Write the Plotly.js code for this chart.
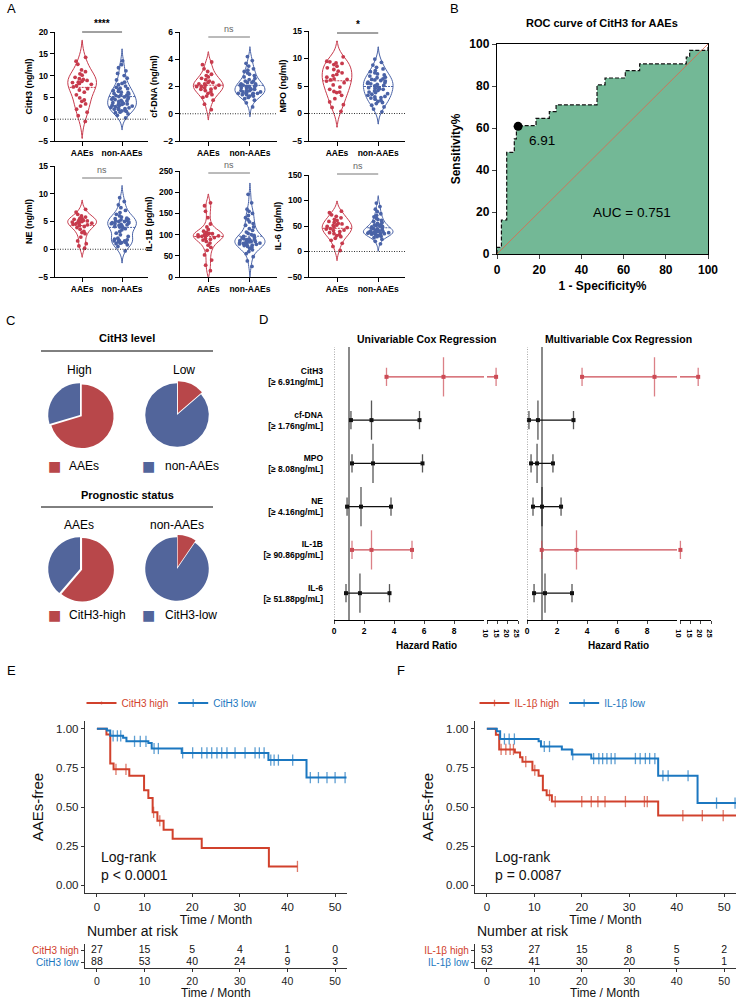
<!DOCTYPE html>
<html>
<head>
<meta charset="utf-8">
<script src="https://cdn.plot.ly/plotly-3.0.1.min.js"></script>
<style>html,body{margin:0;padding:0;background:#fff}</style>
</head>
<body>
<div id="chart" style="width:738px;height:999px"></div>
<script>
// ---------- Panel A: violin data ----------
const violinGroups = ['AAEs', 'non-AAEs'];
const citH3AAEs = [-0.5, 0.8, 1.6, 2.3, 3.0, 3.5, 4.1, 4.4, 4.9, 5.6, 6.2, 6.7, 7.0, 7.4, 7.7, 8.0, 8.2, 8.4, 8.5, 8.7, 8.9, 9.1, 9.3, 9.6, 10.1, 10.4, 10.9, 11.3, 12.6, 13.3, 14.2];
const citH3Non = [0.3, 0.9, 1.2, 1.5, 1.6, 1.8, 1.9, 2.0, 2.2, 2.3, 2.4, 2.6, 2.7, 2.9, 3.0, 3.1, 3.2, 3.4, 3.5, 3.6, 3.7, 3.8, 4.0, 4.1, 4.2, 4.3, 4.5, 4.6, 4.7, 4.9, 5.0, 5.1, 5.2, 5.4, 5.5, 5.6, 5.8, 5.9, 6.1, 6.2, 6.4, 6.6, 6.8, 7.0, 7.1, 7.3, 7.6, 7.9, 8.2, 8.5, 9.0, 9.4, 10.0, 10.5, 11.1, 11.8, 12.5, 13.4, 2.5, 3.3];
const cfDnaAAEs = [0.3, 0.7, 1.0, 1.2, 1.3, 1.4, 1.5, 1.6, 1.7, 1.8, 1.8, 1.9, 1.9, 2.0, 2.0, 2.1, 2.1, 2.2, 2.2, 2.3, 2.3, 2.4, 2.5, 2.6, 2.7, 2.8, 2.9, 3.1, 3.3, 3.6, 3.8];
const cfDnaNon = [0.5, 0.8, 1.0, 1.1, 1.2, 1.3, 1.3, 1.4, 1.4, 1.4, 1.5, 1.5, 1.5, 1.6, 1.6, 1.6, 1.7, 1.7, 1.7, 1.8, 1.8, 1.9, 1.9, 2.0, 2.0, 2.0, 2.1, 2.1, 2.2, 2.2, 2.3, 2.3, 2.4, 2.4, 2.5, 2.6, 2.7, 2.8, 2.9, 3.0, 3.1, 3.2, 3.3, 3.5, 3.7, 3.9, 4.2, 2.1, 1.9, 1.5];
const mpoAAEs = [0.4, 1.1, 1.6, 2.1, 2.7, 3.3, 3.9, 4.0, 4.4, 4.8, 5.2, 5.6, 5.9, 6.1, 6.3, 6.6, 6.9, 7.1, 7.4, 7.7, 8.0, 8.3, 8.6, 8.9, 9.1, 9.2, 9.4, 9.5, 3.8, 6.2, 10.3];
const mpoNon = [0.3, 0.8, 1.2, 1.5, 1.8, 2.0, 2.2, 2.4, 2.6, 2.8, 3.0, 3.1, 3.3, 3.5, 3.6, 3.8, 3.9, 4.1, 4.2, 4.4, 4.5, 4.7, 4.8, 5.0, 5.1, 5.3, 5.4, 5.6, 5.7, 5.9, 6.0, 6.2, 6.3, 6.5, 6.6, 6.8, 7.0, 7.2, 7.4, 7.6, 7.8, 8.1, 8.4, 8.8, 9.3, 9.9, 2.9, 4.6, 5.5, 6.1];
const neAAEs = [0.2, 0.6, 1.0, 1.5, 2.2, 2.8, 3.2, 3.6, 3.9, 4.1, 4.3, 4.5, 4.6, 4.7, 4.8, 4.9, 5.0, 5.1, 5.2, 5.3, 5.4, 5.5, 5.6, 5.8, 6.0, 6.3, 6.7, 7.2, 4.4, 5.0, 3.0];
const neNon = [-0.3, 0.5, 0.8, 1.0, 1.1, 1.2, 1.3, 1.4, 1.5, 1.6, 1.7, 1.8, 2.0, 2.3, 2.6, 2.9, 3.2, 3.5, 3.7, 3.9, 4.0, 4.1, 4.2, 4.3, 4.4, 4.5, 4.6, 4.7, 4.8, 4.9, 5.0, 5.1, 5.2, 5.3, 5.4, 5.5, 5.6, 5.8, 6.0, 6.3, 6.6, 7.0, 7.5, 8.0, 8.6, 9.3, 1.2, 1.5, 4.6, 5.0];
const il1bAAEs = [15, 28, 40, 52, 63, 70, 75, 80, 84, 87, 89, 91, 93, 95, 96, 97, 98, 99, 100, 101, 102, 103, 105, 108, 112, 118, 125, 140, 155, 168, 175];
const il1bNon = [25, 38, 48, 55, 60, 64, 67, 70, 72, 74, 75, 76, 77, 78, 79, 80, 81, 82, 83, 84, 85, 86, 87, 88, 89, 90, 92, 94, 96, 98, 100, 103, 106, 110, 114, 118, 122, 126, 130, 135, 140, 145, 150, 155, 160, 175, 195, 80, 84, 90];
const il6AAEs = [2, 10, 16, 22, 26, 29, 31, 33, 35, 37, 39, 41, 42, 44, 45, 47, 49, 51, 52, 54, 55, 57, 59, 61, 63, 66, 69, 72, 76, 79, 48];
const il6Non = [15, 20, 24, 27, 29, 30, 31, 32, 33, 34, 35, 35, 36, 36, 37, 37, 38, 38, 39, 39, 40, 40, 41, 42, 43, 44, 45, 46, 47, 48, 49, 50, 51, 52, 53, 55, 57, 59, 61, 63, 65, 68, 71, 74, 78, 83, 88, 95, 35, 40];

// ---------- Panel B: ROC ----------
const rocFpr = [0, 0, 2.1, 4.6, 8.2, 9.2, 18.5, 24.8, 28, 47.4, 51.2, 60.8, 67.6, 89.7, 91.3, 100, 100];
const rocTpr = [0, 3.2, 16.2, 48.4, 54.8, 61.1, 64.6, 67.8, 71, 80.5, 83.8, 87.3, 90.5, 93.8, 97, 97, 100];
const cutFpr = [10];
const cutTpr = [60.8];
const cutLabel = '6.91';
const aucLabel = 'AUC = 0.751';

// ---------- Panel C: counts ----------
const outcomeLabels = ['AAEs', 'non-AAEs'];
const levelLabels = ['CitH3-high', 'CitH3-low'];
const citHighCounts = [19, 8];   // AAEs, non-AAEs
const citLowCounts = [12, 76];
const aaeCounts = [19, 12];      // CitH3-high, CitH3-low
const nonAaeCounts = [8, 76];

// ---------- Panel D: Cox regression ----------
const coxRows = ['CitH3<br>[≥ 6.91ng/mL]', 'cf-DNA<br>[≥ 1.76ng/mL]', 'MPO<br>[≥ 8.08ng/mL]', 'NE<br>[≥ 4.16ng/mL]', 'IL-1B<br>[≥ 90.86pg/mL]', 'IL-6<br>[≥ 51.88pg/mL]'];
const uniHR = [7.3, 2.5, 2.6, 1.8, 2.5, 1.73];
const uniLo = [3.5, 1.13, 1.2, 0.87, 1.2, 0.8];
const uniHi = [14.4, 5.7, 5.9, 3.8, 5.2, 3.7];
const uniSig = [true, false, false, false, true, false];
const multiHR = [8.5, 0.73, 0.67, 1.0, 3.3, 1.2];
const multiLo = [3.67, 0.13, 0.27, 0.4, 0.98, 0.47];
const multiHi = [18.8, 3.1, 1.73, 2.27, 10.2, 3.0];
const multiSig = [true, false, false, false, true, false];
const hrBreak = 10;

// ---------- Panels E/F: Kaplan-Meier ----------
const eHighTimes = [0, 2.0, 2.8, 3.5, 6.8, 9.9, 10.8, 11.7, 12.7, 14.0, 15.9, 22.0, 36.1, 42.1];
const eHighSurv = [1, 0.963, 0.778, 0.741, 0.70, 0.607, 0.558, 0.466, 0.412, 0.355, 0.297, 0.237, 0.12, 0.12];
const eHighCens = [4.0, 6.1, 11.9, 13.2, 42.1];
const eLowTimes = [0, 2.1, 2.8, 5.5, 6.2, 10.8, 11.5, 17.8, 36.0, 44.0, 52.4];
const eLowSurv = [1, 0.989, 0.955, 0.943, 0.92, 0.91, 0.874, 0.846, 0.80, 0.688, 0.688];
const eLowCens = [3.4, 4.3, 5.0, 7.9, 9.1, 10.3, 12.0, 12.9, 18.0, 20.1, 22.0, 23.1, 24.1, 25.2, 26.2, 27.3, 29.0, 31.1, 33.2, 34.1, 35.1, 36.5, 37.2, 38.1, 41.1, 44.8, 46.5, 48.3, 50.0, 52.1];
const fHighTimes = [0, 1.9, 2.6, 5.9, 7.0, 7.5, 9.6, 10.9, 11.8, 12.6, 13.7, 36.1, 53];
const fHighSurv = [1, 0.962, 0.868, 0.849, 0.818, 0.79, 0.735, 0.70, 0.607, 0.575, 0.535, 0.445, 0.445];
const fHighCens = [3.0, 4.0, 4.9, 5.6, 8.2, 10.1, 13.2, 14.4, 20.0, 22.0, 23.4, 24.9, 29.2, 33.2, 33.8, 41.3, 45.4, 49.8];
const fLowTimes = [0, 2.1, 2.8, 10.9, 11.4, 15.8, 17.9, 22.0, 36.1, 44.4, 53];
const fLowSurv = [1, 0.984, 0.935, 0.92, 0.887, 0.867, 0.835, 0.81, 0.70, 0.525, 0.525];
const fLowCens = [3.7, 4.7, 5.8, 12.1, 13.2, 18.1, 22.5, 23.6, 24.4, 25.3, 26.2, 27.0, 31.3, 32.3, 33.4, 34.3, 35.4, 37.1, 38.2, 42.4, 48.4, 52.3];
const riskTimes = [0, 10, 20, 30, 40, 50];
const eRiskHigh = [27, 15, 5, 4, 1, 0];
const eRiskLow = [88, 53, 40, 24, 9, 3];
const fRiskHigh = [53, 27, 15, 8, 5, 2];
const fRiskLow = [62, 41, 30, 20, 5, 1];

// ---------- helpers ----------
const W = 738, H = 999;
const FONT = 'Liberation Sans, Arial, sans-serif';
const RED = '#c73a4c', BLUE = '#4a63a7';
const PIE_RED = '#b8474a', PIE_BLUE = '#52659b';
const FRED = '#cc4b55';
const KM_RED = '#d1412c', KM_BLUE = '#1b77c0';
const px = (a, b) => [a / W, b / W];
const py = (top, bottom) => [1 - bottom / H, 1 - top / H];
const fx = x => x / W;
const fy = y => 1 - y / H;
const xk = n => n === 1 ? 'xaxis' : 'xaxis' + n;
const yk = n => n === 1 ? 'yaxis' : 'yaxis' + n;
const xr = n => n === 1 ? 'x' : 'x' + n;
const yr = n => n === 1 ? 'y' : 'y' + n;

const traces = [];
const layout = {
  width: W, height: H,
  margin: {l: 0, r: 0, t: 0, b: 0},
  paper_bgcolor: '#fff', plot_bgcolor: 'rgba(0,0,0,0)',
  font: {family: FONT, color: '#000'},
  showlegend: true,
  shapes: [], annotations: []
};

function note(text, x, y, opts) {
  layout.annotations.push(Object.assign({
    text, x: fx(x), y: fy(y), xref: 'paper', yref: 'paper',
    showarrow: false, xanchor: 'center', yanchor: 'middle',
    font: {family: FONT, size: 12, color: '#000'}
  }, opts || {}));
}

// ---------- Panel A ----------
const boldTick = {family: FONT, size: 8.5, weight: 'bold', color: '#000'};
const violinPanels = [
  {n: 1, label: 'CitH3 (ng/ml)', a: citH3AAEs, b: citH3Non, range: [-5, 20], dtick: 5, xd: [55, 148], yd: [32, 141], sig: '****', barY: 32},
  {n: 2, label: 'cf-DNA (ng/ml)', a: cfDnaAAEs, b: cfDnaNon, range: [-2, 6], dtick: 2, xd: [180, 277], yd: [32, 141], sig: 'ns', barY: 37},
  {n: 3, label: 'MPO (ng/ml)', a: mpoAAEs, b: mpoNon, range: [-5, 15], dtick: 5, xd: [309, 405], yd: [31, 141], sig: '*', barY: 33},
  {n: 4, label: 'NE (ng/ml)', a: neAAEs, b: neNon, range: [-5, 15], dtick: 5, xd: [55, 148], yd: [166, 277], sig: 'ns', barY: 178},
  {n: 5, label: 'IL-1B (pg/ml)', a: il1bAAEs, b: il1bNon, range: [0, 250], dtick: 50, xd: [180, 277], yd: [171, 277], sig: 'ns', barY: 173},
  {n: 6, label: 'IL-6 (pg/ml)', a: il6AAEs, b: il6Non, range: [-50, 150], dtick: 50, xd: [309, 405], yd: [175, 277], sig: 'ns', barY: 174}
];

violinPanels.forEach(p => {
  [[p.a, violinGroups[0], RED], [p.b, violinGroups[1], BLUE]].forEach(([vals, name, color]) => {
    traces.push({
      type: 'violin', y: vals, name, x0: name,
      xaxis: xr(p.n), yaxis: yr(p.n),
      points: 'all', pointpos: 0, jitter: 0.8,
      width: 0.72, spanmode: 'soft',
      line: {color, width: 1}, fillcolor: 'rgba(255,255,255,0)',
      marker: {color, size: 3.8},
      meanline: {visible: true, color, width: 1},
      showlegend: false, hoverinfo: 'skip'
    });
  });
  layout[xk(p.n)] = {
    domain: px(p.xd[0], p.xd[1]), anchor: yr(p.n),
    type: 'category', categoryarray: violinGroups, range: [-0.68, 1.65],
    showgrid: false, zeroline: false, showline: true, linecolor: '#000', linewidth: 1.2,
    ticks: 'outside', ticklen: 4, tickcolor: '#000', tickfont: boldTick
  };
  layout[yk(p.n)] = {
    domain: py(p.yd[0], p.yd[1]), anchor: xr(p.n),
    range: p.range, dtick: p.dtick, tick0: 0,
    showgrid: false, zeroline: false, showline: true, linecolor: '#000', linewidth: 1.2,
    ticks: 'outside', ticklen: 4, tickcolor: '#000', tickfont: boldTick,
    title: {text: p.label, font: {family: FONT, size: 9, weight: 'bold'}, standoff: 4}
  };
  if (p.range[0] < 0) {
    layout.shapes.push({type: 'line', xref: xr(p.n) + ' domain', yref: yr(p.n), x0: 0, x1: 1, y0: 0, y1: 0,
      line: {color: '#333', width: 1, dash: '1px,1.5px'}});
  }
  const ns = p.sig === 'ns';
  layout.shapes.push({type: 'line', xref: xr(p.n), yref: 'paper', x0: 0, x1: 1, y0: fy(p.barY), y1: fy(p.barY),
    line: {color: ns ? '#777' : '#444', width: 1}});
  layout.annotations.push({text: p.sig, xref: xr(p.n), yref: 'paper', x: 0.5, y: fy(p.barY - 1),
    yanchor: 'bottom', showarrow: false,
    font: {family: FONT, size: ns ? 9 : 10, color: ns ? '#666' : '#000', weight: ns ? 'normal' : 'bold'}});
});

// ---------- Panel B ----------
traces.push({
  type: 'scatter', mode: 'lines', x: rocFpr, y: rocTpr, xaxis: 'x7', yaxis: 'y7',
  line: {shape: 'hv', color: '#111', width: 1.2, dash: '4px,2px'},
  fill: 'tozeroy', fillcolor: '#73b896', showlegend: false, hoverinfo: 'skip'
});
traces.push({
  type: 'scatter', mode: 'lines', x: [0, 100], y: [0, 100], xaxis: 'x7', yaxis: 'y7',
  line: {color: '#e0674c', width: 0.8}, showlegend: false, hoverinfo: 'skip'
});
traces.push({
  type: 'scatter', mode: 'markers', x: cutFpr, y: cutTpr, xaxis: 'x7', yaxis: 'y7',
  marker: {color: '#000', size: 9}, showlegend: false, hoverinfo: 'skip', cliponaxis: false
});
const rocTick = {family: FONT, size: 12, weight: 'bold', color: '#000'};
layout.xaxis7 = {
  domain: px(497, 708), anchor: 'y7', range: [0, 100], dtick: 20,
  showgrid: false, zeroline: false, showline: true, mirror: true, linecolor: '#000', linewidth: 1.2,
  ticks: 'outside', ticklen: 4, tickfont: rocTick,
  title: {text: '1 - Specificity%', font: {family: FONT, size: 12, weight: 'bold'}, standoff: 6}
};
layout.yaxis7 = {
  domain: py(44, 254), anchor: 'x7', range: [0, 100], dtick: 20,
  showgrid: false, zeroline: false, showline: true, mirror: true, linecolor: '#000', linewidth: 1.2,
  ticks: 'outside', ticklen: 4, tickfont: rocTick,
  title: {text: 'Sensitivity%', font: {family: FONT, size: 12, weight: 'bold'}, standoff: 6}
};
note('ROC curve of CitH3 for AAEs', 602, 23, {font: {family: FONT, size: 11, weight: 'bold'}});
layout.annotations.push({text: cutLabel, xref: 'x7', yref: 'y7', x: 14.2, y: 54, xanchor: 'left', showarrow: false,
  font: {family: FONT, size: 13.5, color: '#000'}});
layout.annotations.push({text: aucLabel, xref: 'x7', yref: 'y7', x: 64, y: 20, showarrow: false,
  font: {family: FONT, size: 13.5, color: '#000'}});

// ---------- Panel C ----------
const pieR = 34;
function pie(values, labels, cx, cy) {
  traces.push({
    type: 'pie', values, labels, sort: false, direction: 'clockwise', rotation: 0,
    pull: [0.07, 0], textinfo: 'none', hoverinfo: 'skip', showlegend: false,
    marker: {colors: [PIE_RED, PIE_BLUE], line: {width: 0}},
    domain: {x: px(cx - pieR, cx + pieR), y: py(cy - pieR, cy + pieR)}
  });
}
pie(citHighCounts, outcomeLabels, 80, 415);
pie(citLowCounts, outcomeLabels, 177, 415);
pie(aaeCounts, levelLabels, 80, 569);
pie(nonAaeCounts, levelLabels, 177, 569);

const cBold = {family: FONT, size: 11, weight: 'bold', color: '#000'};
const cReg = {family: FONT, size: 12, color: '#000'};
note('CitH3 level', 127, 338, {font: cBold});
layout.shapes.push({type: 'line', xref: 'paper', yref: 'paper', x0: fx(41), x1: fx(213), y0: fy(351), y1: fy(351), line: {color: '#000', width: 1}});
note('High', 79, 370, {font: cReg});
note('Low', 184, 370, {font: cReg});
note('Prognostic status', 127, 495, {font: cBold});
layout.shapes.push({type: 'line', xref: 'paper', yref: 'paper', x0: fx(41), x1: fx(213), y0: fy(507), y1: fy(507), line: {color: '#000', width: 1}});
note(outcomeLabels[0], 79, 525, {font: cReg});
note(outcomeLabels[1], 177, 525, {font: cReg});
[[466, outcomeLabels], [615, levelLabels]].forEach(([yy, labs]) => {
  note('■', 54.5, yy, {font: {family: 'DejaVu Sans', size: 14, color: PIE_RED}});
  note(labs[0], 67, yy, {xanchor: 'left', font: cReg});
  note('■', 148.5, yy, {font: {family: 'DejaVu Sans', size: 14, color: PIE_BLUE}});
  note(labs[1], 163, yy, {xanchor: 'left', font: cReg});
});

// ---------- Panel D ----------
const forestTick = {family: FONT, size: 8.5, weight: 'bold', color: '#000'};
function forest(hr, lo, hi, sig, xa, xb, ya) {
  hr.forEach((h, i) => {
    const c = sig[i] ? FRED : '#111';
    const common = {type: 'scatter', yaxis: ya, showlegend: false, hoverinfo: 'skip', cliponaxis: false};
    traces.push(Object.assign({}, common, {mode: 'lines', xaxis: xa, x: [lo[i], Math.min(hi[i], hrBreak)], y: [i, i], line: {color: c, width: 1.3}}));
    const xs = [lo[i], h], sz = [13, 28];
    if (hi[i] <= hrBreak) { xs.push(hi[i]); sz.push(13); }
    traces.push(Object.assign({}, common, {mode: 'markers', xaxis: xa, x: xs, y: xs.map(() => i),
      marker: {symbol: 'line-ns', size: sz, line: {color: c, width: 1.3}}}));
    traces.push(Object.assign({}, common, {mode: 'markers', xaxis: xa, x: xs, y: xs.map(() => i),
      marker: {symbol: 'square', size: 4, color: c}}));
    if (hi[i] > hrBreak) {
      traces.push(Object.assign({}, common, {mode: 'lines+markers', xaxis: xb, x: [hrBreak, hi[i]], y: [i, i],
        line: {color: c, width: 1.3}, marker: {symbol: 'line-ns', size: [0, 13], line: {color: c, width: 1.3}}}));
      traces.push(Object.assign({}, common, {mode: 'markers', xaxis: xb, x: [hi[i]], y: [i],
        marker: {symbol: 'square', size: 4, color: c}}));
    }
  });
}
forest(uniHR, uniLo, uniHi, uniSig, 'x8', 'x9', 'y8');
forest(multiHR, multiLo, multiHi, multiSig, 'x10', 'x11', 'y9');

function forestX(dom, anchor, range, vals, size) {
  return {domain: px(dom[0], dom[1]), anchor, range, tickvals: vals,
    showgrid: false, zeroline: false, showline: true, linecolor: '#000', linewidth: 1,
    ticks: 'outside', ticklen: 3, tickfont: Object.assign({}, forestTick, {size: size || 8.5})};
}
layout.xaxis8 = forestX([334, 484], 'y8', [0, 10], [0, 2, 4, 6, 8]);
layout.xaxis9 = forestX([487, 518], 'y8', [10, 25], [10, 15, 20, 25], 7.5);
layout.xaxis10 = forestX([527, 677], 'y9', [0, 10], [0, 2, 4, 6, 8]);
layout.xaxis11 = forestX([680, 711], 'y9', [10, 25], [10, 15, 20, 25], 7.5);
layout.yaxis8 = {domain: py(347, 620), anchor: 'x8', range: [5.62, -0.69], tickvals: coxRows.map((_, i) => i), ticktext: coxRows,
  showgrid: false, zeroline: false, showline: false, ticks: '', ticklabelstandoff: 10, tickfont: forestTick};
layout.yaxis9 = {domain: py(347, 620), anchor: 'x10', range: [5.62, -0.69], showticklabels: false,
  showgrid: false, zeroline: false, showline: false, ticks: ''};
[['x8', 'y8'], ['x10', 'y9']].forEach(([xa, ya]) => {
  layout.shapes.push({type: 'line', xref: xa, yref: ya + ' domain', x0: 0, x1: 0, y0: 0, y1: 1, line: {color: '#555', width: 1, dash: '1px,1.5px'}});
  layout.shapes.push({type: 'line', xref: xa, yref: ya + ' domain', x0: 1, x1: 1, y0: 0, y1: 1, line: {color: '#8a8a8a', width: 2}, layer: 'below'});
});
const dBold = {family: FONT, size: 10.5, weight: 'bold', color: '#000'};
note('Univariable Cox Regression', 426, 339, {font: dBold});
note('Multivariable Cox Regression', 618, 339, {font: dBold});
note('Hazard Ratio', 426, 645, {font: {family: FONT, size: 10, weight: 'bold'}});
note('Hazard Ratio', 618, 645, {font: {family: FONT, size: 10, weight: 'bold'}});

// ---------- Panels E/F ----------
function levelAt(times, surv, t) {
  let s = surv[0];
  times.forEach((tt, i) => { if (tt <= t) s = surv[i]; });
  return s;
}
function km(times, surv, cens, name, color, xa, ya, legend) {
  const pts = times.map((t, i) => ({x: t, y: surv[i], s: 0}))
    .concat(cens.map(t => ({x: t, y: levelAt(times, surv, t), s: 8})))
    .sort((a, b) => a.x - b.x || a.s - b.s);
  traces.push({
    type: 'scatter', mode: 'lines+markers', name, legend,
    x: pts.map(p => p.x), y: pts.map(p => p.y), xaxis: xa, yaxis: ya,
    line: {shape: 'hv', color, width: 2},
    marker: {symbol: 'line-ns', size: pts.map(p => p.s), color, line: {color, width: 1.3}},
    hoverinfo: 'skip'
  });
}
function risk(vals, row, xa, ya) {
  traces.push({type: 'scatter', mode: 'text', x: riskTimes, y: riskTimes.map(() => row), text: vals.map(String),
    textfont: {family: FONT, size: 10.5, color: '#111'}, xaxis: xa, yaxis: ya, showlegend: false, hoverinfo: 'skip', cliponaxis: false});
}
const span = (c, t) => '<span style="color:' + c + '">' + t + '</span>';

km(eHighTimes, eHighSurv, eHighCens, span(KM_RED, 'CitH3 high'), KM_RED, 'x12', 'y10', 'legend');
km(eLowTimes, eLowSurv, eLowCens, span(KM_BLUE, 'CitH3 low'), KM_BLUE, 'x12', 'y10', 'legend');
km(fHighTimes, fHighSurv, fHighCens, span(KM_RED, 'IL-1β high'), KM_RED, 'x14', 'y12', 'legend2');
km(fLowTimes, fLowSurv, fLowCens, span(KM_BLUE, 'IL-1β low'), KM_BLUE, 'x14', 'y12', 'legend2');
risk(eRiskHigh, 0, 'x13', 'y11');
risk(eRiskLow, 1, 'x13', 'y11');
risk(fRiskHigh, 0, 'x15', 'y13');
risk(fRiskLow, 1, 'x15', 'y13');

const kmTick = {family: FONT, size: 11.5, color: '#222'};
function kmX(dom, anchor, withTitle) {
  const a = {domain: px(dom[0], dom[1]), anchor, range: [-2.5, 52.5], tickvals: riskTimes,
    showgrid: false, zeroline: false, showline: true, linecolor: '#333', linewidth: 1.2,
    ticks: 'outside', ticklen: 3, tickcolor: '#333', tickfont: kmTick};
  if (withTitle) a.title = {text: 'Time / Month', font: {family: FONT, size: 12.5, color: '#111'}, standoff: 2};
  return a;
}
function kmY(anchor) {
  return {domain: py(721, 893), anchor, range: [-0.05, 1.05], tickvals: [0, 0.25, 0.5, 0.75, 1], tickformat: '.2f',
    showgrid: false, zeroline: false, showline: true, linecolor: '#333', linewidth: 1.2,
    ticks: 'outside', ticklen: 3, tickcolor: '#333', tickfont: kmTick,
    title: {text: 'AAEs-free', font: {family: FONT, size: 15, color: '#111'}, standoff: 8}};
}
function riskY(anchor, labels) {
  return {domain: py(944, 968), anchor, range: [1.5, -0.5], tickvals: [0, 1], ticktext: labels,
    showgrid: false, zeroline: false, showline: true, linecolor: '#333', linewidth: 1.2,
    ticks: 'outside', ticklen: 3, tickcolor: '#333', tickfont: {family: FONT, size: 10}};
}
layout.xaxis12 = kmX([85, 347], 'y10', true);
layout.yaxis10 = kmY('x12');
layout.xaxis13 = kmX([85, 347], 'y11', false);
layout.xaxis13.tickfont = {family: FONT, size: 10.5, color: '#222'};
layout.yaxis11 = riskY('x13', [span(KM_RED, 'CitH3 high'), span(KM_BLUE, 'CitH3 low')]);
layout.xaxis14 = kmX([475, 736], 'y12', true);
layout.yaxis12 = kmY('x14');
layout.xaxis15 = kmX([475, 736], 'y13', false);
layout.xaxis15.tickfont = {family: FONT, size: 10.5, color: '#222'};
layout.yaxis13 = riskY('x15', [span(KM_RED, 'IL-1β high'), span(KM_BLUE, 'IL-1β low')]);

const legendBase = {orientation: 'h', xanchor: 'center', yanchor: 'middle', y: fy(703),
  font: {family: FONT, size: 10}, bgcolor: 'rgba(0,0,0,0)', itemwidth: 30};
layout.legend = Object.assign({x: fx(172)}, legendBase);
layout.legend2 = Object.assign({x: fx(563)}, legendBase);

const kmText = {family: FONT, size: 14, color: '#111'};
note('Log-rank', 99, 857, {xanchor: 'left', font: kmText});
note('p < 0.0001', 99, 875, {xanchor: 'left', font: kmText});
note('Log-rank', 493, 857, {xanchor: 'left', font: kmText});
note('p = 0.0087', 493, 875, {xanchor: 'left', font: kmText});
note('Number at risk', 85, 931, {xanchor: 'left', font: kmText});
note('Number at risk', 475, 931, {xanchor: 'left', font: kmText});
note('Time / Month', 216, 993, {font: {family: FONT, size: 12, color: '#111'}});
note('Time / Month', 605, 993, {font: {family: FONT, size: 12, color: '#111'}});

// panel letters
const letter = {family: FONT, size: 13, color: '#000'};
[['A', 5, 8], ['B', 448, 8], ['C', 4, 320], ['D', 257, 319], ['E', 5, 670], ['F', 395, 670]].forEach(([t, x, y]) =>
  note(t, x, y, {xanchor: 'left', font: letter}));

Plotly.newPlot('chart', traces, layout, {staticPlot: true});
</script>
</body>
</html>
